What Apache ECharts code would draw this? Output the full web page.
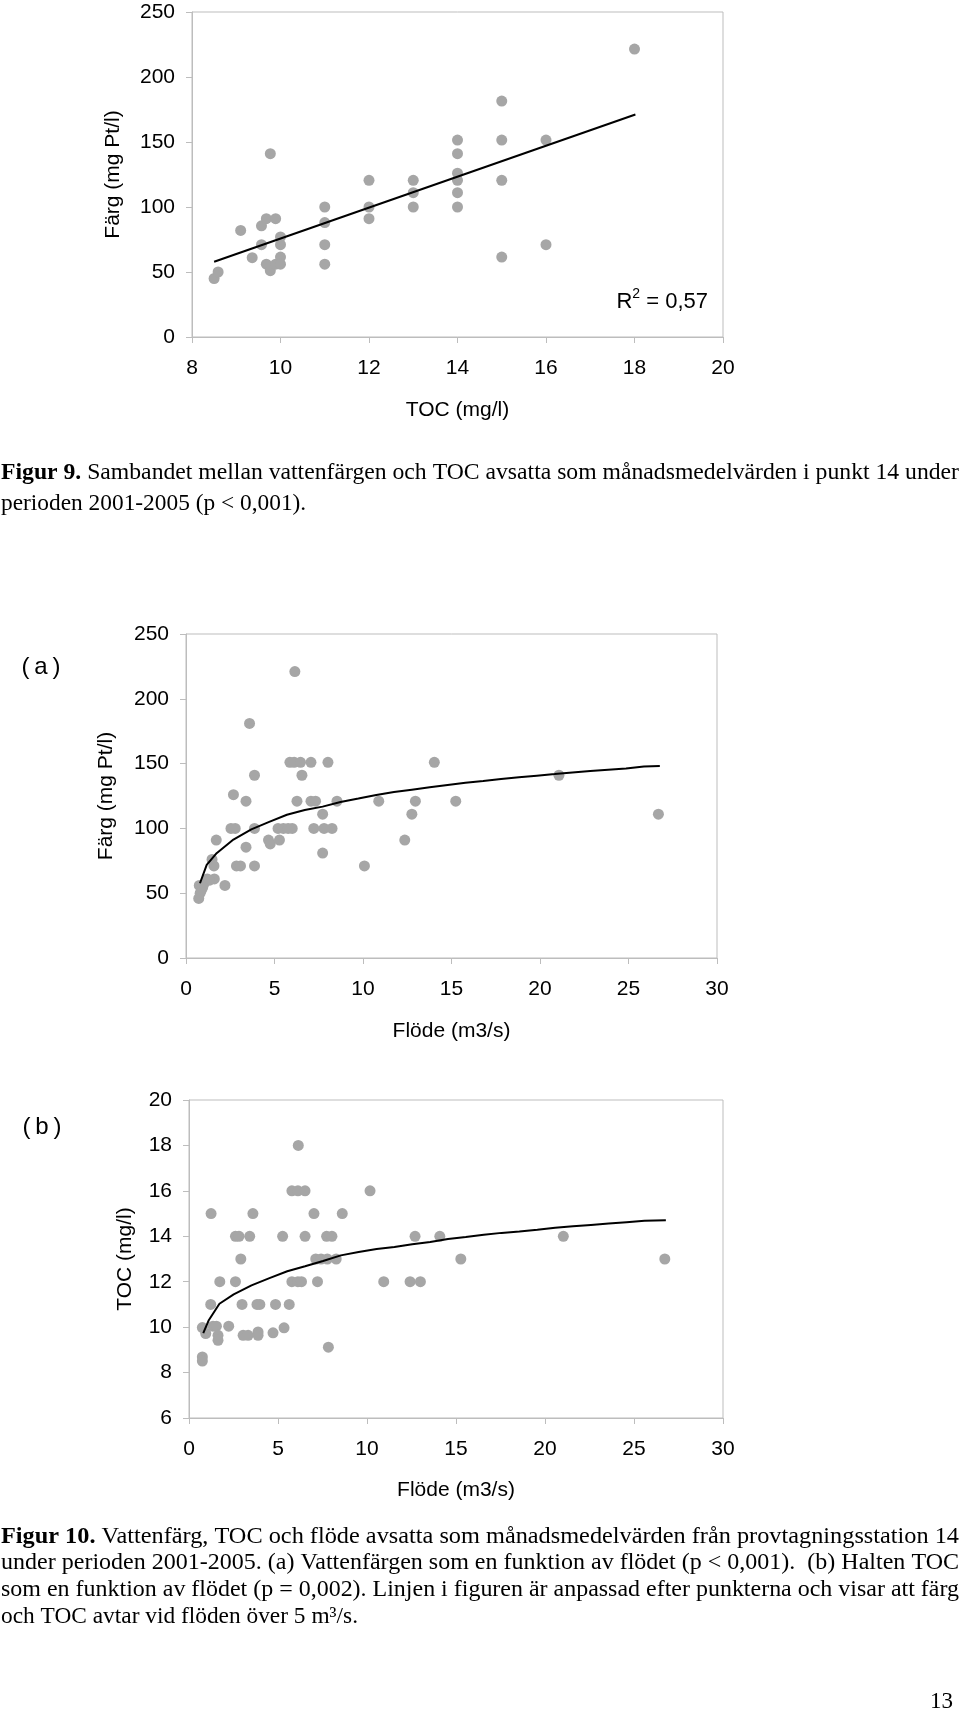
<!DOCTYPE html>
<html>
<head>
<meta charset="utf-8">
<script src="https://cdn.jsdelivr.net/npm/echarts@6/dist/echarts.min.js"></script>
<style>
html,body{margin:0;padding:0;background:#fff;}
#c{width:960px;height:1715px;}
</style>
</head>
<body>
<div id="c"></div>
<script>
// ---------- Figur 9: Färg vs TOC ----------
const fig9Toc  = [8.5, 8.59, 9.1, 9.36, 9.57, 9.57, 9.68, 9.68, 9.77, 9.77, 9.89, 9.89, 10, 10, 10, 10, 11, 11, 11, 11, 12, 12, 12, 13, 13, 13, 14, 14, 14, 14, 14, 14, 15, 15, 15, 15, 16, 16, 18];
const fig9Farg = [45, 50, 82, 61, 85.5, 71, 91, 56, 141, 51, 91, 56, 77, 71, 61.5, 56, 100, 88, 71, 56, 120.5, 100, 91, 120.5, 111, 100, 151.5, 141, 126, 120.5, 111, 100, 181.5, 151.5, 120.5, 61.5, 151.5, 71, 221.5];
const fig9TrendToc  = [8.5, 18.02];
const fig9TrendFarg = [57.9, 171.2];
const fig9R2 = ['R', '2', ' = 0,57'];
const fig9XTicks = [8, 10, 12, 14, 16, 18, 20];
const fig9YTicks = [0, 50, 100, 150, 200, 250];

// ---------- Figur 10a: Färg vs Flöde ----------
const fig10aFlode = [6.15, 3.59, 5.87, 6.11, 6.47, 7.06, 8.02, 14.03, 3.87, 6.55, 21.07, 2.68, 3.39, 6.27, 7.06, 7.32, 8.53, 10.89, 12.96, 15.24, 7.72, 12.76, 26.69, 2.54, 2.78, 3.87, 5.2, 5.5, 5.77, 6.0, 7.22, 7.8, 8.25, 1.71, 4.66, 4.76, 5.28, 12.36, 3.39, 7.72, 1.47, 1.58, 2.85, 3.08, 3.87, 10.08, 1.2, 1.6, 2.2, 0.75, 0.9, 0.8, 0.72, 1.0, 1.3, 0.95];
const fig10aFarg  = [221, 181, 151, 151, 151, 151, 151, 151, 141, 141, 141, 126, 121, 121, 121, 121, 121, 121, 121, 121, 111, 111, 111, 100, 100, 100, 100, 100, 100, 100, 100, 100, 100, 91, 91, 88, 91, 91, 85.5, 81, 76, 71, 71, 71, 71, 71, 61, 61, 56, 56, 53, 50, 46, 57, 60, 55];
const fig10aCurveFlode = [0.79, 1.17, 1.73, 2.68, 3.69, 4.7, 5.7, 6.71, 7.72, 8.73, 9.74, 10.75, 11.75, 12.76, 13.77, 14.78, 15.79, 16.79, 17.8, 18.81, 19.82, 20.83, 21.83, 22.84, 23.85, 24.86, 25.87, 26.77];
const fig10aCurveFarg  = [57.7, 71.8, 80.9, 91.4, 99.3, 105, 110.5, 114.2, 116.8, 120.4, 123, 125.8, 128.1, 129.9, 131.7, 133.5, 135.3, 136.6, 138.1, 139.4, 140.7, 141.9, 143.2, 144.3, 145.3, 146.3, 147.8, 148.1];

// ---------- Figur 10b: TOC vs Flöde ----------
const fig10bFlode = [6.14, 5.78, 6.12, 6.52, 10.17, 1.24, 3.59, 7.02, 8.61, 2.61, 2.81, 3.41, 5.26, 6.52, 7.73, 8.03, 12.7, 14.09, 21.03, 2.91, 7.12, 7.42, 7.77, 8.27, 15.27, 26.73, 1.73, 2.61, 5.78, 6.12, 6.32, 7.22, 10.94, 12.42, 13.0, 1.22, 2.98, 3.82, 3.98, 4.86, 5.63, 0.75, 0.94, 1.35, 1.54, 1.63, 1.63, 2.23, 3.04, 3.32, 3.88, 3.88, 4.72, 5.34, 7.83, 0.75, 0.75];
const fig10bToc   = [18, 16, 16, 16, 16, 15, 15, 15, 15, 14, 14, 14, 14, 14, 14, 14, 14, 14, 14, 13, 13, 13, 13, 13, 13, 13, 12, 12, 12, 12, 12, 12, 12, 12, 12, 11, 11, 11, 11, 11, 11, 9.98, 9.72, 10.04, 10.04, 9.64, 9.42, 10.04, 9.64, 9.64, 9.79, 9.64, 9.75, 9.97, 9.12, 8.69, 8.51];
const fig10bCurveFlode = [0.8, 1.1, 1.71, 2.51, 3.51, 4.52, 5.52, 6.52, 7.53, 8.53, 9.53, 10.54, 11.54, 12.54, 13.55, 14.55, 15.55, 16.56, 17.56, 18.56, 19.57, 20.57, 21.57, 22.58, 23.58, 24.58, 25.59, 26.79];
const fig10bCurveToc   = [9.74, 10.29, 11.03, 11.44, 11.84, 12.16, 12.46, 12.68, 12.91, 13.16, 13.31, 13.44, 13.53, 13.65, 13.75, 13.88, 13.97, 14.07, 14.15, 14.21, 14.29, 14.38, 14.44, 14.5, 14.56, 14.62, 14.68, 14.71];

// ---------- Texts ----------
const fig9Caption = [
  ['Figur 9.', ' Sambandet mellan vattenfärgen och TOC avsatta som månadsmedelvärden i punkt 14 under', true],
  ['', 'perioden 2001-2005 (p < 0,001).', false]
];
const fig10Caption = [
  ['Figur 10.', ' Vattenfärg, TOC och flöde avsatta som månadsmedelvärden från provtagningsstation 14', true],
  ['', 'under perioden 2001-2005. (a) Vattenfärgen som en funktion av flödet (p < 0,001).  (b) Halten TOC', true],
  ['', 'som en funktion av flödet (p = 0,002). Linjen i figuren är anpassad efter punkterna och visar att färg', true],
  ['', 'och TOC avtar vid flöden över 5 m³/s.', false]
];
const pageNumber = '13';

// ---------- helpers ----------
const zip = (a, b) => a.map((v, i) => [v, b[i]]);
const SANS = '"Liberation Sans", Arial, sans-serif';
const SERIF = '"Liberation Serif", "Times New Roman", serif';
const GRAY = '#bdbdbd';
const DOT = '#a6a6a6';
const AX_FS = 21;

function lbl(margin) {
  return { color: '#000', fontSize: AX_FS, fontFamily: SANS, margin: margin };
}
function axisCommon(extra) {
  return Object.assign({
    type: 'value',
    axisLine: { show: true, lineStyle: { color: GRAY, width: 1 } },
    axisTick: { show: true, inside: false, length: 6, lineStyle: { color: GRAY } },
    splitLine: { show: false },
    nameLocation: 'middle',
    nameTextStyle: { color: '#000', fontSize: AX_FS, fontFamily: SANS }
  }, extra);
}

const gridBase = { show: true, borderColor: GRAY, borderWidth: 1, backgroundColor: 'transparent', containLabel: false };

// measure for captions
const mctx = document.createElement('canvas').getContext('2d');
function measure(txt, size, bold) {
  mctx.font = (bold ? 'bold ' : '') + size + 'px ' + SERIF;
  return mctx.measureText(txt).width;
}
const CAP_FS = 22.5;
const FULL_W = 958;
const lastLine = fig10Caption[3][1];
const condense = 357 / measure(lastLine, CAP_FS, false);

function captionLines(lines, ys) {
  return lines.map((ln, i) => {
    const w = measure(ln[0], CAP_FS, true) + measure(ln[1], CAP_FS, false);
    const sx = ln[2] ? FULL_W / w : condense;
    return {
      type: 'text', x: 1, y: ys[i], scaleX: sx, scaleY: 1,
      style: {
        text: (ln[0] ? '{b|' + ln[0] + '}' : '') + ln[1],
        fontSize: CAP_FS, fontFamily: SERIF, fill: '#000',
        verticalAlign: 'middle', align: 'left',
        rich: { b: { fontWeight: 'bold', fontSize: CAP_FS, fontFamily: SERIF, fill: '#000' } }
      }
    };
  });
}

const chart = echarts.init(document.getElementById('c'), null, { renderer: 'canvas' });

const option = {
  animation: false,
  backgroundColor: '#fff',
  grid: [
    Object.assign({ left: 192, top: 12, width: 531, height: 325 }, gridBase),
    Object.assign({ left: 186, top: 634, width: 531, height: 324 }, gridBase),
    Object.assign({ left: 189, top: 1100, width: 534, height: 318 }, gridBase)
  ],
  xAxis: [
    axisCommon({ gridIndex: 0, min: fig9XTicks[0], max: fig9XTicks[fig9XTicks.length - 1], interval: 2,
      name: 'TOC (mg/l)', nameGap: 63, axisLabel: lbl(21) }),
    axisCommon({ gridIndex: 1, min: 0, max: 30, interval: 5,
      name: 'Flöde (m3/s)', nameGap: 63, axisLabel: lbl(21) }),
    axisCommon({ gridIndex: 2, min: 0, max: 30, interval: 5,
      name: 'Flöde (m3/s)', nameGap: 62, axisLabel: lbl(21) })
  ],
  yAxis: [
    axisCommon({ gridIndex: 0, min: fig9YTicks[0], max: fig9YTicks[fig9YTicks.length - 1], interval: 50,
      name: 'Färg (mg Pt/l)', nameGap: 68, axisLabel: lbl(17) }),
    axisCommon({ gridIndex: 1, min: 0, max: 250, interval: 50,
      name: 'Färg (mg Pt/l)', nameGap: 69, axisLabel: lbl(17) }),
    axisCommon({ gridIndex: 2, min: 6, max: 20, interval: 2,
      name: 'TOC (mg/l)', nameGap: 53, axisLabel: lbl(17) })
  ],
  series: [
    { type: 'scatter', xAxisIndex: 0, yAxisIndex: 0, symbolSize: 11, itemStyle: { color: DOT, opacity: 1 }, data: zip(fig9Toc, fig9Farg), z: 2 },
    { type: 'line', xAxisIndex: 0, yAxisIndex: 0, showSymbol: false, symbol: 'none', lineStyle: { color: '#000', width: 2 }, data: zip(fig9TrendToc, fig9TrendFarg), z: 3 },
    { type: 'scatter', xAxisIndex: 1, yAxisIndex: 1, symbolSize: 11, itemStyle: { color: DOT, opacity: 1 }, data: zip(fig10aFlode, fig10aFarg), z: 2 },
    { type: 'line', xAxisIndex: 1, yAxisIndex: 1, showSymbol: false, symbol: 'none', lineStyle: { color: '#000', width: 2 }, data: zip(fig10aCurveFlode, fig10aCurveFarg), z: 3 },
    { type: 'scatter', xAxisIndex: 2, yAxisIndex: 2, symbolSize: 11, itemStyle: { color: DOT, opacity: 1 }, data: zip(fig10bFlode, fig10bToc), z: 2 },
    { type: 'line', xAxisIndex: 2, yAxisIndex: 2, showSymbol: false, symbol: 'none', lineStyle: { color: '#000', width: 2 }, data: zip(fig10bCurveFlode, fig10bCurveToc), z: 3 }
  ],
  graphic: [
    { type: 'text', x: 708, y: 300, style: {
        text: '{r|' + fig9R2[0] + '}{s|' + fig9R2[1] + '}{r|' + fig9R2[2] + '}',
        fontSize: 22, fontFamily: SANS, fill: '#000', align: 'right', verticalAlign: 'middle',
        rich: {
          r: { fontSize: 22, fontFamily: SANS, fill: '#000', lineHeight: 26, verticalAlign: 'bottom' },
          s: { fontSize: 14, fontFamily: SANS, fill: '#000', lineHeight: 14, verticalAlign: 'top' }
        } } },
    { type: 'text', x: 41, y: 667, style: { text: '(\u2009a\u2009)', fontSize: 24, fontFamily: SANS, fill: '#000', align: 'center', verticalAlign: 'middle' } },
    { type: 'text', x: 42, y: 1127, style: { text: '(\u2009b\u2009)', fontSize: 24, fontFamily: SANS, fill: '#000', align: 'center', verticalAlign: 'middle' } },
    { type: 'text', x: 953, y: 1702, style: { text: pageNumber, fontSize: 23, fontFamily: SERIF, fill: '#000', align: 'right', verticalAlign: 'middle' } }
  ].concat(captionLines(fig9Caption, [473, 504]))
   .concat(captionLines(fig10Caption, [1537, 1563, 1590, 1617]))
};

chart.setOption(option);
</script>
</body>
</html>
